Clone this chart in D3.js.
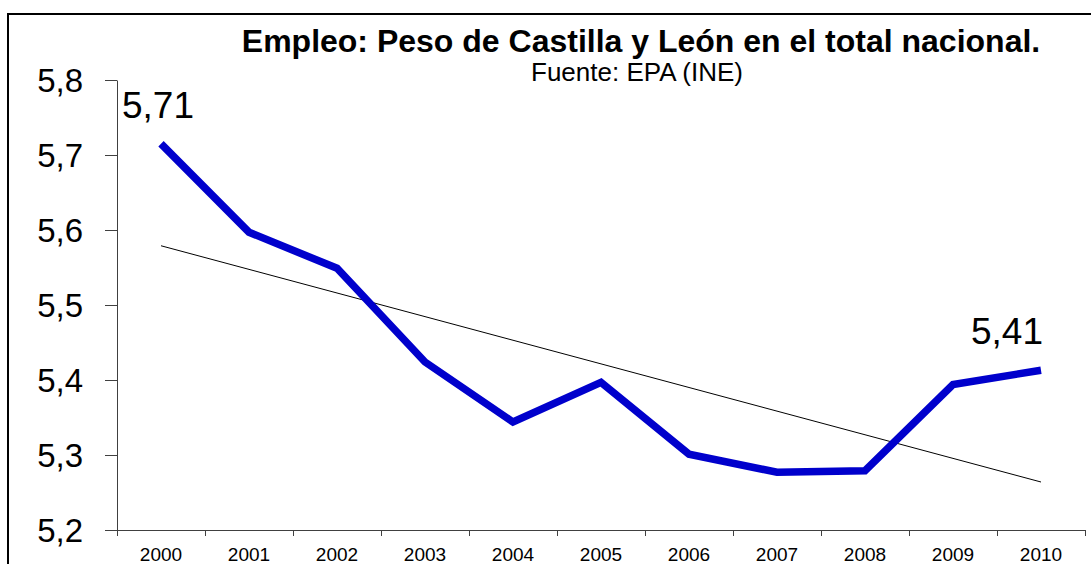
<!DOCTYPE html>
<html>
<head>
<meta charset="utf-8">
<script src="https://cdn.jsdelivr.net/npm/d3@7"></script>
<style>
  html, body { margin: 0; padding: 0; background: #fff; }
  svg { display: block; font-family: "Liberation Sans", Arial, sans-serif; }
  .axis path, .axis line { stroke: #404040; }
</style>
</head>
<body>
<div id="chart"></div>
<script>
// data
const years = ["2000", "2001", "2002", "2003", "2004", "2005", "2006", "2007", "2008", "2009", "2010"];
const peso = [5.715, 5.597, 5.549, 5.424, 5.344, 5.397, 5.301, 5.277, 5.279, 5.394, 5.413];
const trendEnds = [5.579, 5.264]; // linear trend at 2000 and 2010
const yTicks = [5.2, 5.3, 5.4, 5.5, 5.6, 5.7, 5.8];
const labelled = ["2000", "2010"];

const width = 1091, height = 564;
const plotLeft = 117, plotRight = 1085, plotTop = 80, plotBottom = 530;

const svg = d3.select("#chart").append("svg")
    .attr("width", width)
    .attr("height", height);

// outer frame (left and top edges only are inside the picture)
svg.append("path")
    .attr("d", `M8,${height} V14 H${width}`)
    .attr("fill", "none")
    .attr("stroke", "#000")
    .attr("stroke-width", 2);

const locale = d3.formatLocale({ decimal: ",", thousands: ".", grouping: [3], currency: ["", "€"] });
const fmt1 = locale.format(".1f");
const fmt2 = locale.format(".2f");

const x = d3.scaleBand().domain(years).range([plotLeft, plotRight]).padding(0);
const xEdge = d3.scaleLinear().domain([0, years.length]).range([plotLeft, plotRight]);
const y = d3.scaleLinear().domain([5.2, 5.8]).range([plotBottom, plotTop]);
const cx = (d) => x(d) + x.bandwidth() / 2;

// y axis
const gy = svg.append("g")
    .attr("class", "axis")
    .attr("transform", `translate(${plotLeft},0)`)
    .call(d3.axisLeft(y).tickValues(yTicks).tickFormat(fmt1).tickSize(12).tickSizeOuter(0).tickPadding(22));
gy.selectAll("text")
    .attr("fill", "#000")
    .style("font-size", "33px")
    .attr("dy", "0.36em");

// x axis: boundary ticks
svg.append("g")
    .attr("class", "axis")
    .attr("transform", `translate(0,${plotBottom})`)
    .call(d3.axisBottom(xEdge).tickValues(d3.range(years.length + 1)).tickFormat("").tickSize(6).tickSizeOuter(0));

// x axis: category labels
const gx = svg.append("g")
    .attr("transform", `translate(0,${plotBottom})`)
    .call(d3.axisBottom(x).tickSize(0).tickPadding(18));
gx.select(".domain").remove();
gx.selectAll("text")
    .attr("fill", "#000")
    .style("font-size", "19px");

// trend line
svg.append("line")
    .attr("x1", cx(years[0]))
    .attr("y1", y(trendEnds[0]))
    .attr("x2", cx(years[years.length - 1]))
    .attr("y2", y(trendEnds[1]))
    .attr("stroke", "#000")
    .attr("stroke-width", 1);

// series
const line = d3.line()
    .x((d, i) => cx(years[i]))
    .y((d) => y(d));

svg.append("path")
    .datum(peso)
    .attr("d", line)
    .attr("fill", "none")
    .attr("stroke", "#0000cc")
    .attr("stroke-width", 7.5)
    .attr("stroke-linejoin", "miter");

// value labels at the ends
svg.selectAll(".vlabel")
    .data(labelled)
    .enter()
    .append("text")
    .attr("class", "vlabel")
    .attr("x", (d, i) => cx(d) + (i === 0 ? -3 : 2))
    .attr("y", (d) => y(peso[years.indexOf(d)]) - 26)
    .attr("text-anchor", (d, i) => (i === 0 ? "middle" : "end"))
    .style("font-size", "37px")
    .text((d) => fmt2(Math.floor(peso[years.indexOf(d)] * 100) / 100));

// titles
svg.append("text")
    .attr("x", 641)
    .attr("y", 52)
    .attr("text-anchor", "middle")
    .style("font-size", "32px")
    .style("font-weight", "bold")
    .text("Empleo: Peso de Castilla y León en el total nacional.");

svg.append("text")
    .attr("x", 637)
    .attr("y", 81)
    .attr("text-anchor", "middle")
    .style("font-size", "26px")
    .text("Fuente: EPA (INE)");
</script>
</body>
</html>
